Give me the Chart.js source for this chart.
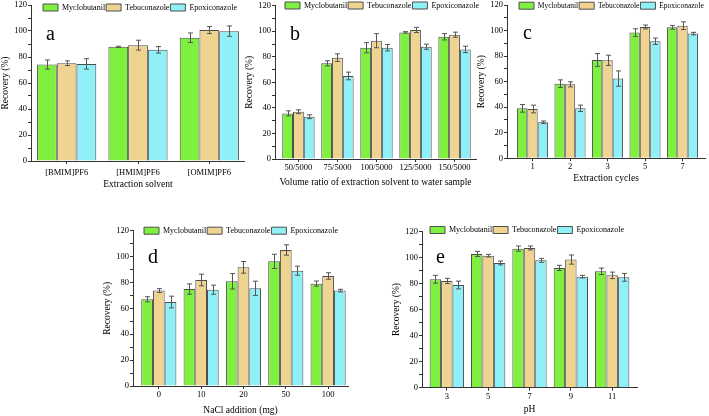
<!DOCTYPE html>
<html><head><meta charset="utf-8">
<script src="https://cdn.jsdelivr.net/npm/chart.js@4.4.1/dist/chart.umd.min.js"></script>
<style>
html,body{margin:0;padding:0;background:#fff;width:709px;height:416px;overflow:hidden;position:relative}
canvas{position:absolute}
</style></head><body>
<canvas id="pa"></canvas><canvas id="pb"></canvas><canvas id="pc"></canvas><canvas id="pd"></canvas><canvas id="pe"></canvas>
<script>
// ---------- data ----------
const seriesNames = ['Myclobutanil', 'Tebuconazole', 'Epoxiconazole'];

const solventLabels = ['[BMIM]PF6', '[HMIM]PF6', '[OMIM]PF6'];
const solventMyc = [74.2, 87.8, 94.8];
const solventTeb = [75.2, 89.1, 100.7];
const solventEpo = [74.7, 85.5, 99.9];
const solventMycErr = [3.5, 0.5, 3.7];
const solventTebErr = [1.8, 3.8, 2.7];
const solventEpoErr = [4.0, 2.5, 4.0];

const ratioLabels = ['50/5000', '75/5000', '100/5000', '125/5000', '150/5000'];
const ratioMyc = [35.7, 74.9, 87.1, 99.1, 95.7];
const ratioTeb = [37.0, 79.3, 92.6, 101.0, 97.3];
const ratioEpo = [33.1, 65.0, 87.1, 87.9, 85.8];
const ratioMycErr = [2.0, 2.0, 4.0, 0.6, 2.5];
const ratioTebErr = [1.5, 3.0, 5.5, 2.0, 2.0];
const ratioEpoErr = [1.5, 3.0, 2.5, 2.0, 2.5];

const cycleLabels = ['1', '2', '3', '5', '7'];
const cycleMyc = [39.1, 58.4, 77.0, 98.4, 102.5];
const cycleTeb = [38.6, 57.9, 76.7, 102.8, 103.8];
const cycleEpo = [28.2, 39.1, 62.4, 91.6, 97.6];
const cycleMycErr = [3.0, 3.0, 5.0, 3.0, 1.5];
const cycleTebErr = [3.0, 2.0, 4.0, 1.5, 3.0];
const cycleEpoErr = [1.0, 2.5, 6.0, 2.5, 1.0];

const naclLabels = ['0', '10', '20', '50', '100'];
const naclMyc = [67.0, 74.9, 80.9, 96.3, 79.1];
const naclTeb = [73.7, 81.9, 91.7, 105.1, 85.0];
const naclEpo = [64.9, 74.4, 75.5, 89.1, 73.7];
const naclMycErr = [2.0, 4.0, 6.0, 5.5, 2.0];
const naclTebErr = [1.5, 4.5, 4.5, 4.0, 2.5];
const naclEpoErr = [4.5, 3.5, 5.5, 3.5, 1.0];

const phLabels = ['3', '5', '7', '9', '11'];
const phMyc = [83.2, 102.6, 106.7, 91.9, 89.3];
const phTeb = [81.9, 101.3, 107.2, 98.3, 86.2];
const phEpo = [78.8, 95.7, 97.7, 85.2, 84.7];
const phMycErr = [3.0, 2.0, 2.0, 2.0, 2.5];
const phTebErr = [2.0, 1.0, 1.5, 3.5, 2.5];
const phEpoErr = [3.0, 1.5, 1.5, 1.0, 3.0];

// ---------- styling ----------
const FONT = '"Liberation Serif", "Times New Roman", serif';
Chart.defaults.font.family = FONT;
Chart.defaults.color = '#000';
const FILLS = ['#80F040', '#EED490', '#90F0F8'];
const BORDER = '#4d4d4d';
const AXIS = '#333';

const errorBars = {
  id: 'errorBars',
  afterDatasetsDraw(chart) {
    const ctx = chart.ctx, ys = chart.scales.y;
    chart.data.datasets.forEach((ds, di) => {
      const meta = chart.getDatasetMeta(di);
      meta.data.forEach((bar, i) => {
        const v = ds.data[i].y, e = ds.errors[i];
        const x = Math.round(bar.x) + 0.5;
        const y1 = ys.getPixelForValue(v + e), y2 = ys.getPixelForValue(v - e);
        ctx.save();
        ctx.strokeStyle = '#555'; ctx.lineWidth = 1;
        ctx.beginPath();
        ctx.moveTo(x, y1); ctx.lineTo(x, y2);
        ctx.moveTo(x - 2.5, y1); ctx.lineTo(x + 2.5, y1);
        ctx.moveTo(x - 2.5, y2); ctx.lineTo(x + 2.5, y2);
        ctx.stroke();
        ctx.restore();
      });
    });
  }
};

function panel(id, g, labels, vals, errs, letter, xTitle) {
  const cv = document.getElementById(id);
  const ch = Math.round(g.titleY + 5.7 - g.ct);
  cv.width = g.cw; cv.height = ch;
  cv.style.left = g.cl + 'px'; cv.style.top = g.ct + 'px';
  cv.style.width = g.cw + 'px'; cv.style.height = ch + 'px';
  const yW = g.pl - g.cl;
  const xH = ch - (g.pb - g.ct);
  const lf = g.legendFont || 8;
  const datasets = seriesNames.map((name, k) => ({
    label: name,
    data: vals[k].map((v, i) => ({ x: i, y: v })),
    errors: errs[k],
    backgroundColor: FILLS[k],
    borderColor: BORDER,
    borderWidth: 1,
    barPercentage: 1,
    categoryPercentage: 0.83
  }));
  const plugins = [errorBars, {
    id: 'legendPlace',
    beforeInit(chart) {
      const L = chart.legend;
      const orig = L.fit;
      L.fit = function () { orig.call(L); L.height = 0; };
    },
    afterLayout(chart) {
      const L = chart.legend;
      L.left = g.legendStart - g.cl - 1;
      L.right = g.cw + 400;
      L.top = g.legendY - g.ct - lf / 2 - 1;
      L.bottom = L.top + 20;
    },
    afterDraw(chart) {
      const ctx = chart.ctx;
      ctx.save();
      ctx.font = '20px ' + FONT;
      ctx.fillStyle = '#000';
      ctx.textBaseline = 'alphabetic';
      ctx.textAlign = 'left';
      ctx.fillText(letter, g.letterX - g.cl, g.letterBase - g.ct);
      ctx.restore();
    }
  }];
  return new Chart(cv, {
    type: 'bar',
    data: { datasets },
    plugins,
    options: {
      responsive: false,
      animation: false,
      devicePixelRatio: 1,
      events: [],
      layout: { padding: { left: 0, top: g.pt - g.ct, right: g.cl + g.cw - g.pr, bottom: 0 } },
      plugins: {
        legend: {
          display: true, position: 'top', align: 'start',
          labels: { boxWidth: 15, boxHeight: 7, padding: 1, font: { size: lf, family: FONT }, color: '#000' }
        },
        tooltip: { enabled: false }
      },
      scales: {
        x: {
          type: 'linear',
          offset: false,
          min: -g.offL, max: labels.length - 1 + g.offR,
          afterBuildTicks: s => { s.ticks = labels.map((l, i) => ({ value: i })); },
          afterFit: s => { s.height = xH; s.paddingLeft = 0; s.paddingRight = 0; },
          ticks: {
            autoSkip: false, maxRotation: 0, padding: g.tickPad,
            font: { size: 8.5, family: FONT }, color: '#000',
            callback: v => labels[v]
          },
          grid: { offset: false, drawOnChartArea: false, drawTicks: true, tickLength: 3, color: AXIS },
          border: { display: true, color: AXIS, width: 1 },
          title: { display: true, text: xTitle, padding: 0, font: { size: 9.5, family: FONT }, color: '#000' }
        },
        y: {
          min: 0, max: 120,
          afterFit: s => { s.width = yW; s.paddingTop = 0; s.paddingBottom = 0; },
          ticks: {
            stepSize: 10, padding: 1, autoSkip: false,
            font: { size: 8.5, family: FONT }, color: '#000',
            callback: v => (v % 20 === 0 ? v : '')
          },
          grid: { drawOnChartArea: false, drawTicks: true, tickLength: 3, color: AXIS },
          border: { display: true, color: AXIS, width: 1 },
          title: { display: true, text: 'Recovery (%)', padding: 0, font: { size: 9.5, family: FONT }, color: '#000' }
        }
      }
    }
  });
}

panel('pa', { cl: 0, ct: 0, cw: 245, pl: 31, pr: 245, pt: 5, pb: 161, offL: 0.5, offR: 0.5, tickPad: 3.6, titleY: 184.3,
  legendStart: 43, legendY: 7.5, letterX: 46, letterBase: 40 },
  solventLabels, [solventMyc, solventTeb, solventEpo], [solventMycErr, solventTebErr, solventEpoErr], 'a', 'Extraction solvent');

panel('pb', { cl: 244, ct: 0, cw: 240, pl: 275, pr: 476, pt: 5.7, pb: 159, offL: 0.6, offR: 0.55, tickPad: 0.2, titleY: 182.3,
  legendStart: 285, legendY: 5.5, letterX: 290, letterBase: 40 },
  ratioLabels, [ratioMyc, ratioTeb, ratioEpo], [ratioMycErr, ratioTebErr, ratioEpoErr], 'b', 'Volume ratio of extraction solvent to water sample');

panel('pc', { cl: 476, ct: 0, cw: 233, pl: 507, pr: 705, pt: 5, pb: 158.3, offL: 0.68, offR: 0.6, tickPad: 0.3, titleY: 178.3,
  legendStart: 519, legendY: 5.7, legendFont: 7.5, letterX: 523, letterBase: 39 },
  cycleLabels, [cycleMyc, cycleTeb, cycleEpo], [cycleMycErr, cycleTebErr, cycleEpoErr], 'c', 'Extraction cycles');

panel('pd', { cl: 102, ct: 210, cw: 248, pl: 133, pr: 348, pt: 230.7, pb: 386, offL: 0.61, offR: 0.47, tickPad: 0.9, titleY: 410,
  legendStart: 144, legendY: 230.7, letterX: 148, letterBase: 263 },
  naclLabels, [naclMyc, naclTeb, naclEpo], [naclMycErr, naclTebErr, naclEpoErr], 'd', 'NaCl addition (mg)');

panel('pe', { cl: 391, ct: 210, cw: 248, pl: 422, pr: 637, pt: 231.3, pb: 387.7, offL: 0.6, offR: 0.6, tickPad: 0.9, titleY: 409,
  legendStart: 430, legendY: 230, letterX: 436, letterBase: 263 },
  phLabels, [phMyc, phTeb, phEpo], [phMycErr, phTebErr, phEpoErr], 'e', 'pH');
</script>
</body></html>
